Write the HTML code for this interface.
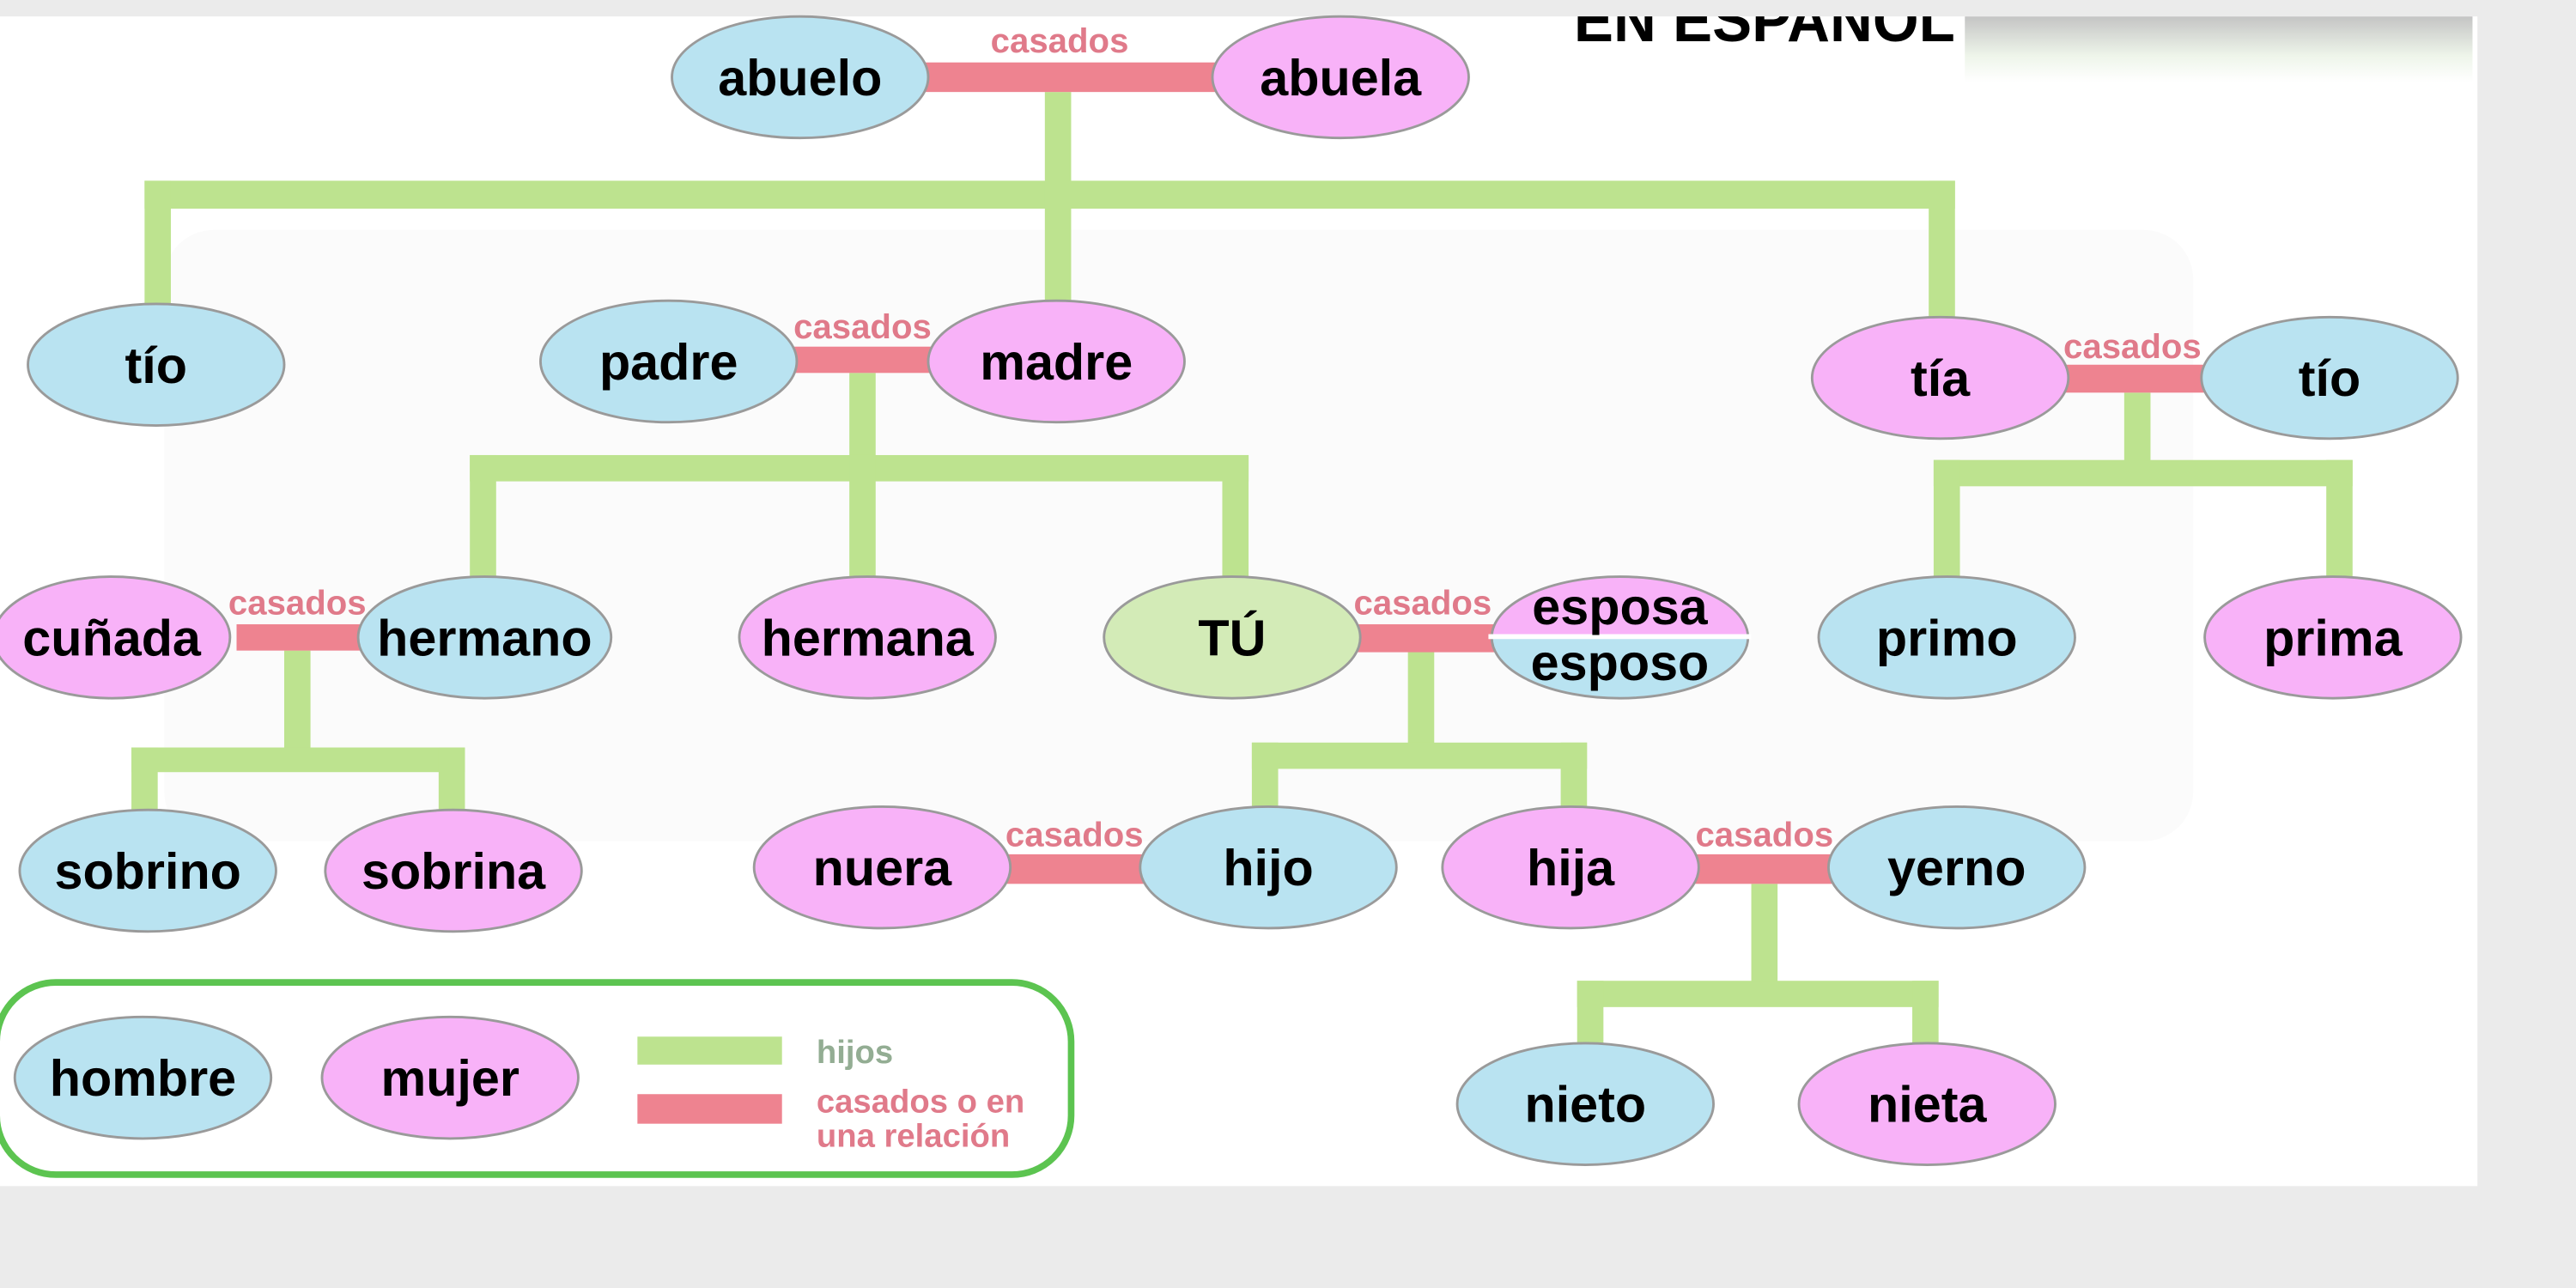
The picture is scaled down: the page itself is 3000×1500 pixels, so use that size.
<!DOCTYPE html>
<html><head><meta charset="utf-8"><style>
html,body{margin:0;padding:0;background:#ebebeb;}
svg{display:block;}
text{font-family:"Liberation Sans",sans-serif;font-weight:bold;}
</style></head><body>
<svg width="3000" height="1500" viewBox="0 0 1568 784" xmlns="http://www.w3.org/2000/svg">
<defs>
<linearGradient id="tg" x1="0" y1="0" x2="0" y2="1"><stop offset="0" stop-color="#c4c4c4"/><stop offset="0.6" stop-color="#eef5ea"/><stop offset="1" stop-color="#ffffff"/></linearGradient>
<clipPath id="ct"><rect x="0" y="10" width="1508" height="712"/></clipPath>
<clipPath id="top"><rect x="900" y="0" width="1200" height="388"/></clipPath>
<clipPath id="bot"><rect x="900" y="388" width="1200" height="100"/></clipPath>
</defs>
<rect x="0" y="0" width="1568" height="784" fill="#ebebeb"/>
<rect x="0" y="10" width="1508" height="712" fill="#ffffff"/>
<rect x="100" y="140" width="1235" height="372" rx="30" fill="#fbfbfb"/>
<g clip-path="url(#ct)">
<text x="958" y="25" font-size="38" fill="#000" textLength="232" lengthAdjust="spacingAndGlyphs">EN ESPAÑOL</text>
<rect x="1196" y="10" width="309" height="40" fill="url(#tg)"/>
</g>
<g fill="#bde38f">
<rect x="636" y="56" width="16" height="62"/>
<rect x="88" y="110" width="1102" height="17"/>
<rect x="88" y="110" width="16" height="85"/>
<rect x="636" y="110" width="16" height="75"/>
<rect x="1174" y="110" width="16" height="85"/>
<rect x="517" y="227" width="16" height="60"/>
<rect x="286" y="277" width="474" height="16"/>
<rect x="286" y="277" width="16" height="78"/>
<rect x="517" y="277" width="16" height="78"/>
<rect x="744" y="277" width="16" height="78"/>
<rect x="1293" y="239" width="16" height="50"/>
<rect x="1177" y="280" width="255" height="16"/>
<rect x="1177" y="280" width="16" height="72"/>
<rect x="1416" y="280" width="16" height="72"/>
<rect x="173" y="396" width="16" height="66"/>
<rect x="80" y="455" width="203" height="15"/>
<rect x="80" y="455" width="16" height="42"/>
<rect x="267" y="455" width="16" height="42"/>
<rect x="857" y="396" width="16" height="64"/>
<rect x="762" y="452" width="204" height="16"/>
<rect x="762" y="452" width="16" height="44"/>
<rect x="950" y="452" width="16" height="44"/>
<rect x="1066" y="538" width="16" height="70"/>
<rect x="960" y="597" width="220" height="16"/>
<rect x="960" y="597" width="16" height="45"/>
<rect x="1164" y="597" width="16" height="45"/>
</g>
<g fill="#ee8390">
<rect x="560" y="38" width="182" height="18"/>
<rect x="480" y="211" width="90" height="16"/>
<rect x="1256" y="222" width="88" height="17"/>
<rect x="144" y="380" width="78" height="16"/>
<rect x="824" y="380" width="88" height="17"/>
<rect x="610" y="520" width="88" height="18"/>
<rect x="1030" y="520" width="88" height="18"/>
</g>
<g font-size="21" fill="#e07a8a" text-anchor="middle">
<text x="645" y="32">casados</text>
<text x="525" y="206">casados</text>
<text x="1298" y="218">casados</text>
<text x="181" y="374">casados</text>
<text x="866" y="374">casados</text>
<text x="654" y="515">casados</text>
<text x="1074" y="515">casados</text>
</g>
<g stroke="#9a9a9a" stroke-width="1.5">
<ellipse cx="487" cy="47" rx="78" ry="37" fill="#b9e3f1"/>
<ellipse cx="816" cy="47" rx="78" ry="37" fill="#f8b2f8"/>
<ellipse cx="95" cy="222" rx="78" ry="37" fill="#b9e3f1"/>
<ellipse cx="407" cy="220" rx="78" ry="37" fill="#b9e3f1"/>
<ellipse cx="643" cy="220" rx="78" ry="37" fill="#f8b2f8"/>
<ellipse cx="1181" cy="230" rx="78" ry="37" fill="#f8b2f8"/>
<ellipse cx="1418" cy="230" rx="78" ry="37" fill="#b9e3f1"/>
<ellipse cx="68" cy="388" rx="72" ry="37" fill="#f8b2f8"/>
<ellipse cx="295" cy="388" rx="77" ry="37" fill="#b9e3f1"/>
<ellipse cx="528" cy="388" rx="78" ry="37" fill="#f8b2f8"/>
<ellipse cx="750" cy="388" rx="78" ry="37" fill="#d3ebb7"/>
<ellipse cx="1185" cy="388" rx="78" ry="37" fill="#b9e3f1"/>
<ellipse cx="1420" cy="388" rx="78" ry="37" fill="#f8b2f8"/>
<ellipse cx="90" cy="530" rx="78" ry="37" fill="#b9e3f1"/>
<ellipse cx="276" cy="530" rx="78" ry="37" fill="#f8b2f8"/>
<ellipse cx="537" cy="528" rx="78" ry="37" fill="#f8b2f8"/>
<ellipse cx="772" cy="528" rx="78" ry="37" fill="#b9e3f1"/>
<ellipse cx="956" cy="528" rx="78" ry="37" fill="#f8b2f8"/>
<ellipse cx="1191" cy="528" rx="78" ry="37" fill="#b9e3f1"/>
<ellipse cx="965" cy="672" rx="78" ry="37" fill="#b9e3f1"/>
<ellipse cx="1173" cy="672" rx="78" ry="37" fill="#f8b2f8"/>
<ellipse cx="986" cy="388" rx="78" ry="37" fill="#f8b2f8" clip-path="url(#top)"/>
<ellipse cx="986" cy="388" rx="78" ry="37" fill="#b9e3f1" clip-path="url(#bot)"/>
</g>
<rect x="906" y="386" width="160" height="3" fill="#fff"/>
<g font-size="31" fill="#000" text-anchor="middle">
<text x="487" y="58">abuelo</text>
<text x="816" y="58">abuela</text>
<text x="95" y="233">tío</text>
<text x="407" y="231">padre</text>
<text x="643" y="231">madre</text>
<text x="1181" y="241">tía</text>
<text x="1418" y="241">tío</text>
<text x="68" y="399">cuñada</text>
<text x="295" y="399">hermano</text>
<text x="528" y="399">hermana</text>
<text x="750" y="399">TÚ</text>
<text x="986" y="380">esposa</text>
<text x="986" y="414">esposo</text>
<text x="1185" y="399">primo</text>
<text x="1420" y="399">prima</text>
<text x="90" y="541">sobrino</text>
<text x="276" y="541">sobrina</text>
<text x="537" y="539">nuera</text>
<text x="772" y="539">hijo</text>
<text x="956" y="539">hija</text>
<text x="1191" y="539">yerno</text>
<text x="965" y="683">nieto</text>
<text x="1173" y="683">nieta</text>
</g>
<rect x="-2" y="598" width="654" height="117" rx="36" fill="#fff" stroke="#5cc450" stroke-width="4"/>
<ellipse cx="87" cy="656" rx="78" ry="37" fill="#b9e3f1" stroke="#9a9a9a" stroke-width="1.5"/>
<ellipse cx="274" cy="656" rx="78" ry="37" fill="#f8b2f8" stroke="#9a9a9a" stroke-width="1.5"/>
<g font-size="31" fill="#000" text-anchor="middle">
<text x="87" y="667">hombre</text>
<text x="274" y="667">mujer</text>
</g>
<rect x="388" y="631" width="88" height="17" fill="#bde38f"/>
<rect x="388" y="666" width="88" height="18" fill="#ee8390"/>
<text x="497" y="647" font-size="20" fill="#93ad93">hijos</text>
<text x="497" y="677" font-size="20" fill="#e07a8a">casados o en</text>
<text x="497" y="698" font-size="20" fill="#e07a8a">una relación</text>
</svg>
</body></html>
